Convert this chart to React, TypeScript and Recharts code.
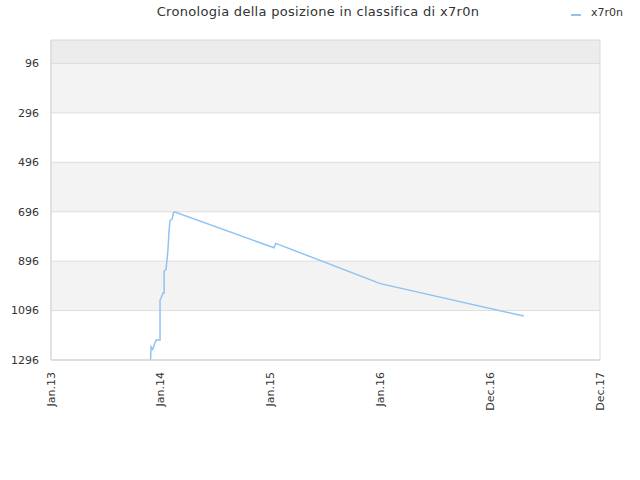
import React from "react";
import { LineChart, Line, XAxis, YAxis, ReferenceArea, ReferenceLine } from "recharts";

const years = [
  2013.907, 2013.911, 2013.926, 2013.957, 2013.993, 2013.993, 2014.002, 2014.02, 2014.03, 2014.03,
  2014.047, 2014.057, 2014.066, 2014.075, 2014.084, 2014.102, 2014.116, 2014.129, 2015.031, 2015.047,
  2016.0, 2017.306,
];
const ranks = [
  1296, 1243, 1253, 1215, 1215, 1054, 1046, 1025, 1025, 937,
  930, 890, 844, 775, 731, 727, 699, 697, 842, 824,
  987, 1118,
];
const xTicks = [2013, 2014, 2015, 2016, 2017, 2018];
const xTickLabels = ["Jan.13", "Jan.14", "Jan.15", "Jan.16", "Dec.16", "Dec.17"];
const yTicks = [96, 296, 496, 696, 896, 1096, 1296];
const yDomain = [1, 1296];
const seriesName = "x7r0n";
const title = "Cronologia della posizione in classifica di x7r0n";

const data = years.map((y, i) => ({ x: y, rank: ranks[i] }));

const bands = [
  { y1: 1, y2: 96, fill: "#ececec" },
  { y1: 96, y2: 296, fill: "#f3f3f3" },
  { y1: 496, y2: 696, fill: "#f3f3f3" },
  { y1: 896, y2: 1096, fill: "#f3f3f3" },
];

const FONT = "DejaVu Sans, sans-serif";
const LINE_COLOR = "#8fc3f3";

const XTick = (props: any) => {
  const { x, y, payload } = props;
  const idx = xTicks.indexOf(payload.value);
  return (
    <text
      transform={`translate(${x},${y + 4}) rotate(-90)`}
      textAnchor="end"
      dominantBaseline="central"
      fontSize={11}
      fill="#333"
      fontFamily={FONT}
    >
      {xTickLabels[idx]}
    </text>
  );
};

export default function App() {
  return (
    <div style={{ position: "absolute", left: 0, top: 0, width: 640, height: 480, background: "#fff", fontFamily: FONT }}>
      <div
        style={{
          position: "absolute",
          top: 4,
          left: 0,
          width: 636,
          textAlign: "center",
          fontSize: 13,
          letterSpacing: 0.3,
          color: "#333",
        }}
      >
        {title}
      </div>
      <div style={{ position: "absolute", top: 6, left: 571, fontSize: 11, color: "#333", display: "flex", alignItems: "center" }}>
        <svg width={10} height={10} style={{ marginRight: 10 }}>
          <line x1={0} y1={7} x2={10} y2={7} stroke={LINE_COLOR} strokeWidth={2} />
        </svg>
        <span>{seriesName}</span>
      </div>
      <LineChart width={640} height={480} data={data} margin={{ top: 40, right: 40, bottom: 60, left: 0 }}>
        {bands.map((b, i) => (
          <ReferenceArea key={i} y1={b.y1} y2={b.y2} fill={b.fill} fillOpacity={1} stroke="none" ifOverflow="hidden" />
        ))}
        {yTicks.map((t) => (
          <ReferenceLine key={t} y={t} stroke="#dddddd" strokeWidth={1} />
        ))}
        <ReferenceArea x1={2013} x2={2018} y1={1} y2={1296} fill="none" stroke="#d8d8d8" strokeWidth={1} />
        <XAxis
          dataKey="x"
          type="number"
          domain={[2013, 2018]}
          ticks={xTicks}
          tick={<XTick />}
          tickLine={false}
          axisLine={{ stroke: "#d8d8d8" }}
          height={60}
          interval={0}
        />
        <YAxis
          type="number"
          domain={yDomain}
          reversed
          ticks={yTicks}
          width={51}
          tickLine={false}
          axisLine={{ stroke: "#d8d8d8" }}
          tick={{ fontSize: 11, fill: "#333", fontFamily: FONT }}
          tickMargin={6}
          interval={0}
        />
        <Line
          dataKey="rank"
          type="linear"
          stroke={LINE_COLOR}
          strokeWidth={1.5}
          dot={false}
          isAnimationActive={false}
        />
      </LineChart>
    </div>
  );
}
